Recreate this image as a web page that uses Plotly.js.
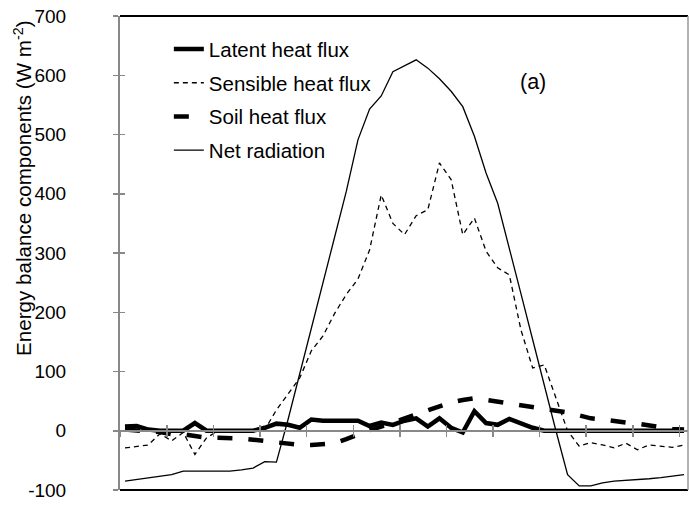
<!DOCTYPE html>
<html>
<head>
<meta charset="utf-8">
<script src="https://cdn.plot.ly/plotly-3.0.1.min.js"></script>
<style>html,body{margin:0;padding:0;background:#fff;}#chart{width:689px;height:507px;}</style>
</head>
<body>
<div id="chart"></div>
<script>
// Half-hourly steps (index 0..48)
var steps = [];
for (var s = 0; s <= 48; s++) steps.push(s);

var latentHeat = [7, 8, 2, 0, 0, 0, 13, 0, 0, 0, 0, 0, 5, 12, 10, 5, 19, 17, 17, 17, 17, 8, 14, 10, 17,
                  21, 7, 21, 5, -3, 33, 13, 10, 20, 12, 5, 0, 0, 0, 0, 0, 0, 0, 0, 0, 0, 0, 0, 0];
var sensibleHeat = [-29, -27, -24, -5, -17, -3, -40, -12, 0, 0, 0, 0, 2, 35, 62, 89, 135, 160, 198, 230, 256, 305, 398, 350, 331,
                    363, 373, 452, 424, 331, 359, 303, 275, 263, 170, 106, 111, 55, 0, -26, -20, -24, -29, -21, -32, -24, -26, -28, -24];
var soilHeat = [2, 0, -1, -2, -6, -6, -9, -12, -12, -12, -13, -15, -17, -19, -21, -24, -24, -23, -21, -14, -6, 1, 7, 14, 21,
                28, 35, 41, 48, 52, 55, 52, 49, 47, 44, 40, 38, 35, 31, 26, 21, 19, 16, 14, 12, 9, 6, 3, 2];
var netRadiation = [-85, -82, -80, -77, -74, -68, -68, -68, -68, -68, -66, -63, -52, -53, 19, 95, 170, 250, 327, 404, 491, 543, 565, 606, 616,
                    626, 612, 594, 573, 547, 497, 435, 384, 310, 231, 154, 75, 0, -74, -93, -93, -88, -85, -84, -83, -81, -79, -77, -74];

var seriesNames = ["Latent heat flux", "Sensible heat flux", "Soil heat flux", "Net radiation"];
var yTickVals = [-100, 0, 100, 200, 300, 400, 500, 600, 700];
var yTickText = ["-100", "0", "100", "200", "300", "400", "500", "600", "700"];
var xTickVals = [];
for (var k = 0; k <= 12; k++) xTickVals.push(-0.4 + 4 * k);

var FONT = "Liberation Sans, Arial, sans-serif";

var traces = [
  {x: steps, y: latentHeat, name: seriesNames[0], mode: "lines", legendgroup: "a",
   line: {color: "#000", width: 4.5}},
  {x: steps, y: sensibleHeat, name: seriesNames[1], mode: "lines", legendgroup: "b",
   line: {color: "#000", width: 1.3, dash: "5px,4px"}},
  {x: steps, y: soilHeat, name: seriesNames[2], mode: "lines", legendgroup: "c",
   line: {color: "#000", width: 4.5, dash: "15px,16px"}},
  {x: steps, y: netRadiation, name: seriesNames[3], mode: "lines", legendgroup: "d",
   line: {color: "#000", width: 1.3}}
];

var xRange = [-0.43, 48.34];
var layout = {
  width: 689, height: 507,
  margin: {l: 120, r: 1, t: 16, b: 17, pad: 0},
  paper_bgcolor: "#fff", plot_bgcolor: "#fff",
  font: {family: FONT, size: 19, color: "#000"},
  showlegend: true,
  legend: {x: 0.086, y: 0.972, xanchor: "left", yanchor: "top", bgcolor: "rgba(0,0,0,0)",
           font: {family: FONT, size: 20.5, color: "#000"}, tracegroupgap: 4},
  xaxis: {range: xRange, anchor: "free", position: 0.125, showline: true, linecolor: "#888", linewidth: 2,
          ticks: "outside", ticklen: 5, tickwidth: 1.5, tickcolor: "#888", tickmode: "array", tickvals: xTickVals,
          showticklabels: false, showgrid: false, zeroline: false, fixedrange: true},
  xaxis2: {range: xRange, overlaying: "x", anchor: "free", position: 0.125, showline: false,
          ticks: "inside", ticklen: 6, tickwidth: 1.5, tickcolor: "#888", tickmode: "array", tickvals: xTickVals,
          showticklabels: false, showgrid: false, zeroline: false},
  yaxis: {range: [-100, 700], showline: true, linecolor: "#888", linewidth: 2,
          ticks: "outside", ticklen: 5, tickwidth: 1.5, tickcolor: "#888", tickmode: "array",
          tickvals: yTickVals, ticktext: yTickText,
          ticklabelstandoff: 43, tickfont: {family: FONT, size: 19, color: "#000"},
          showgrid: false, zeroline: false},
  yaxis2: {range: [-100, 700], overlaying: "y", side: "left", anchor: "x", showline: false,
          ticks: "inside", ticklen: 5, tickwidth: 1.5, tickcolor: "#888", tickmode: "array", tickvals: yTickVals,
          showticklabels: false, showgrid: false, zeroline: false},
  shapes: [
    {type: "line", xref: "paper", yref: "paper", x0: 0, x1: 1, y0: 1, y1: 1, line: {color: "#000", width: 2}},
    {type: "line", xref: "paper", yref: "paper", x0: 0, x1: 1, y0: 0, y1: 0, line: {color: "#000", width: 2}},
    {type: "line", xref: "paper", yref: "paper", x0: 1, x1: 1, y0: 0, y1: 1, line: {color: "#999", width: 1.5}}
  ],
  annotations: [
    {text: "Energy balance components (W m<sup>-2</sup>)", xref: "paper", yref: "paper", x: -0.172, y: 0.638,
     xanchor: "center", yanchor: "middle",
     textangle: -90, showarrow: false, font: {family: FONT, size: 20.6, color: "#000"}},
    {text: "(a)", xref: "paper", yref: "paper", x: 0.727, y: 0.861, xanchor: "center", yanchor: "middle",
     showarrow: false, font: {family: FONT, size: 21.5, color: "#000"}}
  ]
};

// dummy traces so overlay axes render
traces.push({x: [0], y: [null], xaxis: "x2", yaxis: "y2", showlegend: false, hoverinfo: "skip", mode: "lines"});

Plotly.newPlot("chart", traces, layout, {displayModeBar: false, staticPlot: true});
</script>
</body>
</html>
